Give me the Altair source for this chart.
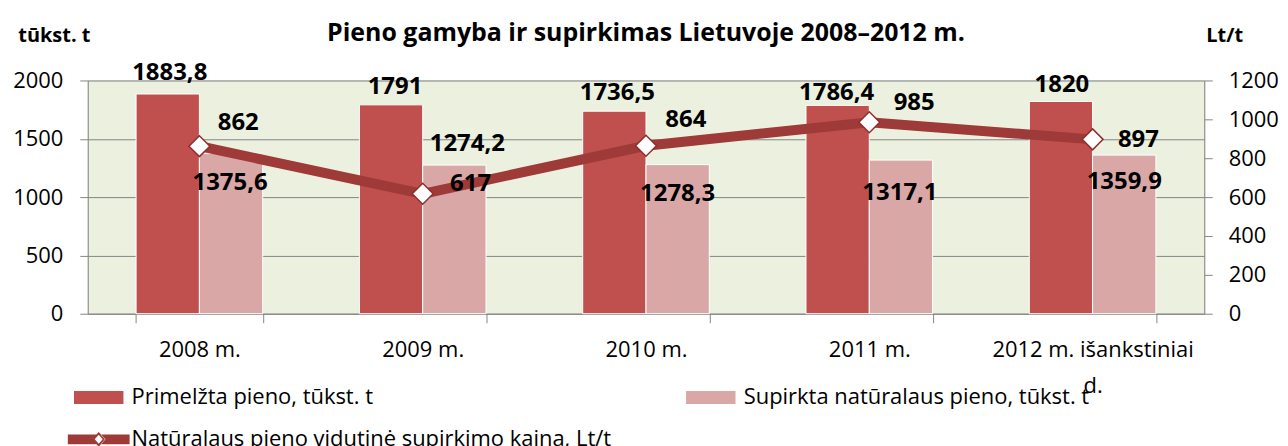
import altair as alt
import pandas as pd

# ---- data ----
years = ["2008 m.", "2009 m.", "2010 m.", "2011 m.", "2012 m. išankstiniai d."]
primelzta = [1883.8, 1791, 1736.5, 1786.4, 1820]
supirkta = [1375.6, 1274.2, 1278.3, 1317.1, 1359.9]
kaina = [862, 617, 864, 985, 897]
series_names = [
    "Primelžta pieno, tūkst. t",
    "Supirkta natūralaus pieno, tūkst. t",
    "Natūralaus pieno vidutinė supirkimo kaina, Lt/t",
]

# ---- label nudges (pixels), as placed in the original ----
bar1_dx = [2, 4, 3, -1, 1]
bar1_dy = [-21, -18, -18, -12, -16]
bar2_dx = [-1, 13, 0, -1, 0]
bar2_dy = [30, -21, 29, 33, 27]
line_dx = [39, 48, 40, 45, 46]
line_dy = [-23, -10, -26, -19, 1]

FONT = "Open Sans"
GRAY = "#868686"
DARK = "#C0504D"
LIGHT = "#D9A7A6"
LINE = "#9E3A38"
DSTROKE = "#8E2F2C"


def fmt(v):
    return f"{v:g}".replace(".", ",")


rows = []
for name, vals in zip(series_names, [primelzta, supirkta, kaina]):
    for yr, v in zip(years, vals):
        rows.append({"year": yr, "series": name, "value": v, "label": fmt(v)})
df = pd.DataFrame(rows)

x_axis = alt.Axis(
    title=None,
    tickBand="extent",
    domainColor=GRAY,
    tickColor=GRAY,
    tickSize=9,
    labelFont=FONT,
    labelFontSize=22,
    labelColor="black",
    labelPadding=17,
    labelAngle=0,
    labelLimit=0,
    labelOverlap=False,
    labelLineHeight=36,
    labelExpr="datum.label == '2012 m. išankstiniai d.' ? ['2012 m. išankstiniai', 'd.'] : datum.label",
)
x_scale = alt.Scale(paddingInner=0.433, paddingOuter=0.2165)


def xenc():
    return alt.X("year:N", sort=years, scale=x_scale, axis=x_axis)


left_scale = alt.Scale(domain=[0, 2000])
right_scale = alt.Scale(domain=[0, 1200])

left_axis = alt.Axis(
    values=[0, 500, 1000, 1500, 2000],
    format="d",
    grid=True,
    gridColor=GRAY,
    domainColor=GRAY,
    tickColor=GRAY,
    tickSize=8,
    labelFont=FONT,
    labelFontSize=22,
    labelColor="black",
    labelPadding=17,
    title="tūkst. t",
    titleAngle=0,
    titleX=-34,
    titleY=-45,
    titleAlign="center",
    titleBaseline="middle",
    titleFont=FONT,
    titleFontSize=20,
    titleFontWeight="bold",
    titleColor="black",
)
right_axis = alt.Axis(
    orient="right",
    values=[0, 200, 400, 600, 800, 1000, 1200],
    format="d",
    grid=False,
    domainColor=GRAY,
    tickColor=GRAY,
    tickSize=8,
    labelFont=FONT,
    labelFontSize=22,
    labelColor="black",
    labelPadding=16,
    title="Lt/t",
    titleAngle=0,
    titleX=20,
    titleY=-45,
    titleAlign="center",
    titleBaseline="middle",
    titleFont=FONT,
    titleFontSize=20,
    titleFontWeight="bold",
    titleColor="black",
)


def yleft():
    return alt.Y("value:Q", scale=left_scale, axis=left_axis)


def yright():
    return alt.Y("value:Q", scale=right_scale, axis=right_axis)


xoff = alt.XOffset("series:N", scale=alt.Scale(domain=series_names[:2]))

base = alt.Chart(df)

bars = base.transform_filter(
    alt.FieldOneOfPredicate(field="series", oneOf=series_names[:2])
).mark_bar(stroke="white", strokeWidth=1).encode(
    x=xenc(),
    xOffset=xoff,
    y=yleft(),
    color=alt.Color(
        "series:N",
        scale=alt.Scale(domain=series_names[:2], range=[DARK, LIGHT]),
        legend=None,
    ),
)

bar_texts = []
for s, dxs, dys in [(series_names[0], bar1_dx, bar1_dy), (series_names[1], bar2_dx, bar2_dy)]:
    for yr, dx, dy in zip(years, dxs, dys):
        bar_texts.append(
            base.transform_filter((alt.datum.series == s) & (alt.datum.year == yr))
            .mark_text(font=FONT, fontSize=24, fontWeight="bold", color="black",
                       align="center", baseline="middle", dx=dx, dy=dy)
            .encode(x=xenc(), xOffset=xoff, y=yleft(), text="label:N")
        )

# ---- legend (carried by invisible marks, visible legend symbols) ----
rect_path = "M-0.8,-0.21H0.8V0.21H-0.8Z"
line_path = (
    "M-1,-0.16L-0.06,-0.16L-0.2,0L-0.06,0.16L-1,0.16Z"
    "M1,-0.16L0.06,-0.16L0.2,0L0.06,0.16L1,0.16Z"
    "M0,-0.24L0.22,0L0,0.24L-0.22,0Z"
    "M0,-0.145L-0.13,0L0,0.145L0.13,0Z"
)
leg = alt.Legend(
    title=None,
    orient="none",
    legendX=-20,
    legendY=287,
    direction="horizontal",
    columns=2,
    symbolSize=3844,
    symbolStrokeWidth=0,
    symbolOpacity=1,
    labelFont=FONT,
    labelFontSize=22,
    labelColor="black",
    labelOffset=2,
    labelLimit=0,
    columnPadding=68,
    rowPadding=-36,
    padding=0,
)
legend_layer = base.mark_point(filled=True, opacity=0).encode(
    x=xenc(),
    y=alt.value(0),
    fill=alt.Fill("series:N", scale=alt.Scale(domain=series_names, range=[DARK, LIGHT, LINE]), legend=leg),
    shape=alt.Shape("series:N", scale=alt.Scale(domain=series_names, range=[rect_path, rect_path, line_path]), legend=leg),
)

left = alt.layer(bars, *bar_texts, legend_layer)

line_base = base.transform_filter(alt.datum.series == series_names[2])
line = line_base.mark_line(color=LINE, strokeWidth=10).encode(x=xenc(), y=yright())
points = line_base.mark_point(
    shape="diamond", filled=True, fill="white", stroke=DSTROKE, strokeWidth=1.5, size=441, opacity=1
).encode(x=xenc(), y=yright())
line_texts = []
for yr, dx, dy in zip(years, line_dx, line_dy):
    line_texts.append(
        line_base.transform_filter(alt.datum.year == yr)
        .mark_text(font=FONT, fontSize=24, fontWeight="bold", color="black",
                   align="center", baseline="middle", dx=dx, dy=dy)
        .encode(x=xenc(), y=yright(), text="label:N")
    )
right = alt.layer(line, points, *line_texts)

chart = (
    alt.layer(left, right)
    .resolve_scale(y="independent")
    .properties(
        width=1120,
        height=234,
        background="white",
        title=alt.TitleParams(
            "Pieno gamyba ir supirkimas Lietuvoje 2008–2012 m.",
            font=FONT,
            fontSize=25,
            fontWeight="bold",
            color="black",
            anchor="middle",
            offset=-20,
        ),
        padding={"left": 80, "top": 72, "right": 76, "bottom": 134},
        autosize=alt.AutoSizeParams(type="none"),
    )
    .configure_view(fill="#EBF1DE", stroke="#D9D9D9")
)

chart.save("out.html", embed_options={"renderer": "svg", "actions": False})
